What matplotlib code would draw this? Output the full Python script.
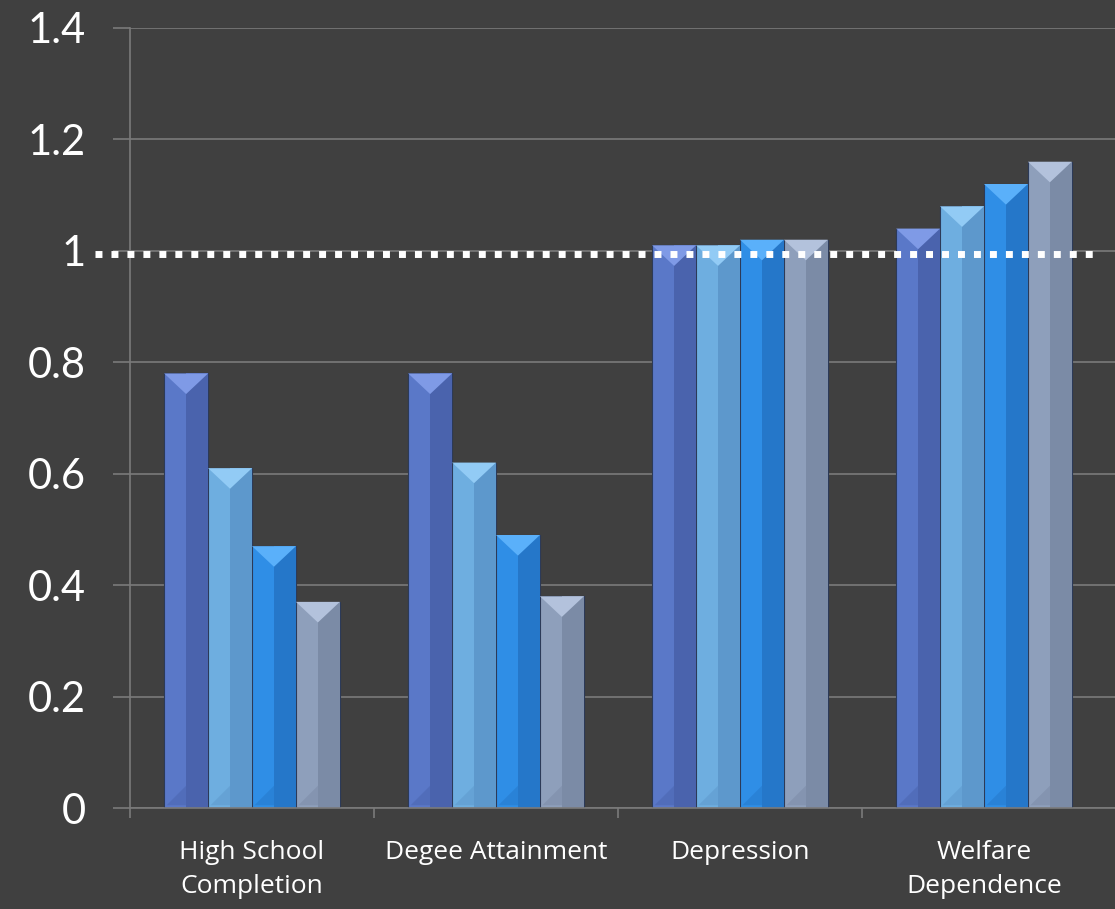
import numpy as np
import matplotlib.pyplot as plt
from matplotlib.patches import Polygon

categories = ['High School\nCompletion', 'Degee Attainment', 'Depression', 'Welfare\nDependence']
series_1 = [0.78, 0.78, 1.01, 1.04]
series_2 = [0.61, 0.62, 1.01, 1.08]
series_3 = [0.47, 0.49, 1.02, 1.12]
series_4 = [0.37, 0.38, 1.02, 1.16]
reference_value = 0.995
y_ticks = [0, 0.2, 0.4, 0.6, 0.8, 1, 1.2, 1.4]
y_tick_labels = ['0', '0.2', '0.4', '0.6', '0.8', '1', '1.2', '1.4']

bg = '#404040'
grid_col = '#7a7a7a'
# (base, dark right half, light top facet)
colors = [('#5a78c8', '#4a63ad', '#7f9ae6'),
          ('#6eaee0', '#5d98cc', '#92cbf5'),
          ('#2f8ee6', '#2577c9', '#5ab0fa'),
          ('#8e9fbb', '#7b8ba6', '#b3c2dc')]

fig = plt.figure(figsize=(11.15, 9.09), dpi=100, facecolor=bg)
ax = fig.add_axes([0.1166, 0.1111, 0.8834, 0.8581], facecolor=bg)

x = np.arange(len(categories))
w = 0.18
all_series = [series_1, series_2, series_3, series_4]
for i, vals in enumerate(all_series):
    pos = x + (i - 1.5) * w
    base, dark, light = colors[i]
    ax.bar(pos, vals, w, color=base, edgecolor='#2c3a58', linewidth=0.8, zorder=2)
    # darker right half for the bevel look
    ax.bar(pos + w / 4, vals, w / 2, color=dark, linewidth=0, zorder=2.1)
    for p, v in zip(pos, vals):
        tri = Polygon([[p - w / 2, v], [p + w / 2, v], [p, v - 0.037]],
                      closed=True, facecolor=light, edgecolor='none', zorder=2.2)
        ax.add_patch(tri)
        bot = Polygon([[p - w / 2 + 0.01, 0.005], [p + w / 2 - 0.01, 0.005], [p, 0.04]],
                      closed=True, facecolor=dark, edgecolor='none', alpha=0.5, zorder=2.2)
        ax.add_patch(bot)

ax.plot([-0.643, 3.475], [reference_value, reference_value], color='white',
        linewidth=5, linestyle=(0, (1.0, 1.3)), dash_capstyle='butt',
        clip_on=False, zorder=3)

ax.set_xlim(-0.5, 3.537)
ax.set_ylim(0, 1.4)
ax.set_yticks(y_ticks)
ax.set_yticklabels(y_tick_labels, fontsize=30, color='white', family='Lato')
ax.yaxis.grid(True, color=grid_col, linewidth=1.2, zorder=0)
ax.set_axisbelow(True)
ax.tick_params(axis='y', length=12, width=1.2, color=grid_col, pad=20)

ax.set_xticks([-0.5, 0.5, 1.5, 2.5])
ax.set_xticklabels([])
ax.set_xticks(x, minor=True)
ax.set_xticklabels(categories, minor=True, fontsize=19, color='white',
                   family='Open Sans', linespacing=1.45)
ax.tick_params(axis='x', which='major', length=7, width=1.2, color=grid_col)
ax.tick_params(axis='x', which='minor', length=0, pad=23)

for s in ['top', 'right']:
    ax.spines[s].set_visible(False)
for s in ['left', 'bottom']:
    ax.spines[s].set_color(grid_col)
    ax.spines[s].set_linewidth(1.2)

plt.savefig('out.png', dpi=100, facecolor=bg)
